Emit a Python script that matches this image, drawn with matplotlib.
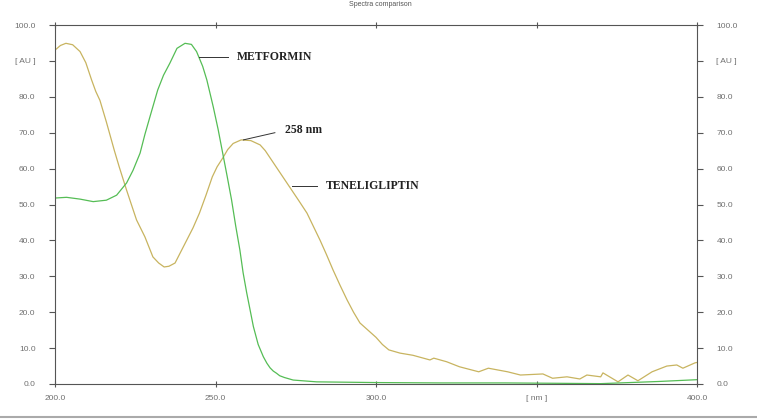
import matplotlib.pyplot as plt
from matplotlib.lines import Line2D

# --- dane ---
tene_wl = [200, 201.7, 203.4, 205.5, 207.8, 209.6, 211.4, 212.7, 214, 216, 218.5, 220, 222.3,
           225.4, 228, 230.5, 232.3, 234, 235.5, 237.4, 239, 241, 243, 245, 247, 249,
           250.5, 252.3, 253.8, 255.5, 258, 261, 263.9, 265.5, 267, 270, 273, 276,
           278.5, 282.6, 284.6, 286.6, 288.8, 291, 293, 295, 297.5, 300, 302, 304,
           307.5, 311.5, 316.8, 318, 322, 326, 332, 335, 341, 345, 352, 355, 359.5,
           363.5, 365.7, 370, 370.7, 375.4, 378.5, 381.6, 386, 390.6, 393.7, 395.6,
           399.4, 400]
tene_au = [93, 94.3, 94.9, 94.5, 92.6, 89.5, 84.7, 81.5, 79, 73, 65, 60.5, 54,
           45.7, 41, 35.4, 33.7, 32.6, 32.8, 33.7, 36.5, 40, 43.5, 47.6, 52.5, 57.7,
           60.5, 63, 65.3, 67, 68, 67.8, 66.6, 65, 63, 59, 55, 51,
           47.6, 40, 36, 31.8, 27.5, 23.4, 20, 17, 15, 13, 11, 9.5,
           8.6, 8, 6.7, 7.2, 6.2, 4.8, 3.4, 4.4, 3.4, 2.5, 2.8, 1.6, 2,
           1.4, 2.5, 2, 3.1, 0.6, 2.5, 0.9, 3.4, 5, 5.3, 4.4,
           5.9, 6.0]

met_wl = [200, 203.6, 207.8, 211.9, 216, 219.2, 222.3, 224.3, 226.5, 228, 229.6, 232,
          233.8, 235.8, 238, 240.5, 242.5, 244.1, 246, 247.3, 249.3, 250.8, 252.2,
          253.6, 255, 256.3, 257.6, 258.6, 259.7, 261.8, 263.3, 264.9, 266, 267, 268,
          269, 270, 271.5, 274.2, 281.5, 300, 320, 340, 356, 370, 376, 388, 400]
met_au = [51.8, 52, 51.5, 50.8, 51.2, 52.6, 56, 59.5, 64.3, 69.5, 74.5, 81.9,
          86, 89.4, 93.5, 94.9, 94.6, 92.6, 88.5, 84.7, 77.2, 71, 64.5,
          58, 51.3, 44, 37.3, 31, 25.5, 16, 11, 7.6, 5.8, 4.5, 3.6,
          3, 2.3, 1.8, 1.1, 0.6, 0.4, 0.3, 0.3, 0.2, 0.1, 0.3, 0.7, 1.2]

y_ticks = [0, 10, 20, 30, 40, 50, 60, 70, 80, 90, 100]
y_labels = ['0.0', '10.0', '20.0', '30.0', '40.0', '50.0', '60.0', '70.0', '80.0', '[ AU ]', '100.0']
x_ticks = [200, 250, 300, 350, 400]
x_labels = ['200.0', '250.0', '300.0', '[ nm ]', '400.0']

plt.rcParams['font.family'] = ['Liberation Sans', 'DejaVu Sans']

fig = plt.figure(figsize=(7.57, 4.2), dpi=100)
ax = fig.add_axes([55 / 757, 36 / 420, 642 / 757, 359 / 420])

ax.plot(tene_wl, tene_au, color='#c8b460', lw=0.9)
ax.plot(met_wl, met_au, color='#55bd55', lw=0.9)

ax.set_xlim(200, 400)
ax.set_ylim(0, 100)

axis_col = '#555555'
lab_col = '#707070'
for s in ax.spines.values():
    s.set_color(axis_col)
    s.set_linewidth(0.8)

ax.set_xticks(x_ticks)
ax.set_xticklabels(x_labels)
ax.set_yticks(y_ticks)
ax.set_yticklabels(y_labels)
ax.tick_params(axis='y', direction='out', length=4, width=0.8, color=axis_col,
               labelsize=6, labelcolor=lab_col, pad=10, right=True, labelright=True)
ax.tick_params(axis='x', direction='inout', length=4, width=0.8, color=axis_col,
               labelsize=6, labelcolor=lab_col, pad=6, top=True)

# --- adnotacje ---
serif = dict(family=['Liberation Serif', 'DejaVu Serif'], fontweight='bold', fontsize=8.5, color='#222222')
ax.plot([244.9, 253.9], [91.1, 91.1], color='#333333', lw=0.7)
ax.text(256.7, 91.1, 'METFORMIN', va='center', ha='left', **serif)
ax.plot([258.7, 268.5], [68.0, 70.0], color='#333333', lw=0.7)
ax.text(271.6, 70.8, '258 nm', va='center', ha='left', **serif)
ax.plot([273.7, 281.5], [55.2, 55.2], color='#333333', lw=0.7)
ax.text(284.3, 55.2, 'TENELIGLIPTIN', va='center', ha='left', **serif)

fig.text(380 / 757, 1 - 1 / 420, 'Spectra comparison', ha='center', va='top',
         fontsize=5, color='#555555')
fig.add_artist(Line2D([0, 1], [1 - 417 / 420, 1 - 417 / 420], color='#aaaaaa', lw=1.5,
                      transform=fig.transFigure))

fig.savefig('out.png', dpi=100)
